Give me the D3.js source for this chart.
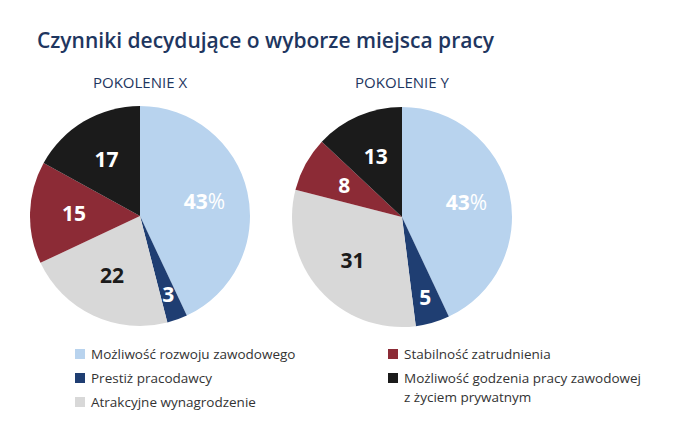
<!DOCTYPE html>
<body style="margin:0;background:#fff">
<div id="chart"></div>
<script src="https://d3js.org/d3.v7.min.js"></script>
<script>
// values, starting at 12 o'clock going clockwise
var categories = ["Możliwość rozwoju zawodowego", "Prestiż pracodawcy", "Atrakcyjne wynagrodzenie",
                  "Stabilność zatrudnienia", "Możliwość godzenia pracy zawodowej|z życiem prywatnym"];
var generations = ["POKOLENIE X", "POKOLENIE Y"];
var valuesX = [43, 3, 22, 15, 17];
var valuesY = [43, 5, 31, 8, 13];

var colors = ["#b8d3ee", "#1f3e72", "#d8d8d8", "#8c2b36", "#1b1b1b"];
var labelColors = ["#fff", "#fff", "#1b1b1b", "#fff", "#fff"];

var svg = d3.select("#chart").append("svg").attr("width", 681).attr("height", 439);

svg.append("text").attr("x", 37).attr("y", 48)
    .style("font-family", "'Open Sans'").style("font-size", "21px").style("font-weight", 600)
    .style("fill", "#1e3660").text("Czynniki decydujące o wyborze miejsca pracy");

var pie = d3.pie().sort(null).value(d => d);
var r = 110;
var arc = d3.arc().innerRadius(0).outerRadius(r);

function drawPie(vals, cx, cy, title) {
    var g = svg.append("g").attr("transform", "translate(" + cx + "," + cy + ")");
    svg.append("text").attr("x", cx).attr("y", 88).attr("text-anchor", "middle")
        .style("font-family", "'Open Sans'").style("font-size", "15px").style("fill", "#1e3660")
        .text(title);
    var arcs = pie(vals);
    g.selectAll("path").data(arcs).join("path")
        .attr("d", arc).attr("fill", (d, i) => colors[i]);
    g.selectAll("text").data(arcs).join("text")
        .attr("transform", d => {
            var lr = d.data < 7 ? r * 0.76 : r * 0.6;
            var c = d3.arc().innerRadius(lr).outerRadius(lr).centroid(d);
            return "translate(" + c + ")";
        })
        .attr("text-anchor", "middle").attr("dy", "0.35em")
        .style("font-family", "'Open Sans'").style("font-size", "21px").style("font-weight", 700)
        .style("fill", (d, i) => labelColors[i])
        .each(function (d, i) {
            var t = d3.select(this);
            t.append("tspan").text(d.data);
            if (i === 0) t.append("tspan").style("font-weight", 400).text("%");
        });
}

drawPie(valuesX, 140, 216, generations[0]);
drawPie(valuesY, 402, 217, generations[1]);

var legendPos = [[75, 354], [75, 378], [75, 402], [388, 354], [388, 378]];
var leg = svg.selectAll("g.leg").data(categories).join("g").attr("class", "leg")
    .attr("transform", (d, i) => "translate(" + legendPos[i] + ")");
leg.append("rect").attr("x", 0).attr("y", -5).attr("width", 10).attr("height", 10)
    .attr("fill", (d, i) => colors[i]);
leg.append("text").attr("x", 16)
    .style("font-family", "'Open Sans'").style("font-size", "13.5px").style("fill", "#333")
    .each(function (d) {
        d.split("|").forEach((line, j) => {
            d3.select(this).append("tspan").attr("x", 16).attr("dy", j === 0 ? "0.35em" : "1.4em").text(line);
        });
    });
</script>
</body>
</html>
